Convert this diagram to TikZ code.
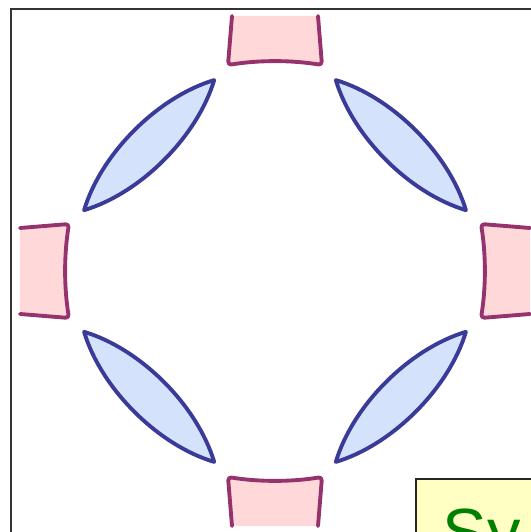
\documentclass[tikz,border=0pt]{standalone}
\usepackage{fontspec}
\setsansfont{Liberation Sans}
\definecolor{lensline}{RGB}{58,58,152}
\definecolor{lensfill}{RGB}{212,226,252}
\definecolor{mirrorline}{RGB}{150,50,110}
\definecolor{mirrorfill}{RGB}{255,217,218}
\definecolor{boxfill}{RGB}{255,255,196}
\definecolor{labelgreen}{RGB}{0,128,0}

\begin{document}
\begin{tikzpicture}[x=0.02cm,y=0.02cm,
  lens/.style={draw=lensline, fill=lensfill, line width=2.2pt, line join=round},
  mirror/.style={draw=mirrorline, line width=2.2pt, line join=round, line cap=round, rounded corners=2pt},
  sysbox/.style={draw=black!85, fill=boxfill, line width=1.1pt, anchor=north west, text=labelgreen,
    font=\sffamily\fontsize{38}{42}\selectfont, text width=6cm, align=left, inner xsep=0.54cm, inner ysep=0.6cm}]

\useasboundingbox (-275,-261) rectangle (256,271);
\draw[black!80, line width=0.8pt] (-264,262) rectangle (340,-340);

\def\rl{178};
\def\ri{206};
\def\ro{255};
\foreach \a in {0,90,180,270}{
  \begin{scope}[rotate=\a]
    \fill[mirrorfill] (\ro,-43) -- (\ri,-47) .. controls (\ri+5,-16) and (\ri+5,16) .. (\ri,47) -- (\ro,43) -- cycle;
    \draw[mirror] (\ro,-43) -- (\ri,-47) .. controls (\ri+5,-16) and (\ri+5,16) .. (\ri,47) -- (\ro,43);
  \end{scope}
}
\foreach \a in {45,135,225,315}{
  \draw[lens, shift={(\a:\rl)}, rotate=\a+90] (-92,0) .. controls (-40,28) and (40,28) .. (92,0)
    .. controls (40,-28) and (-40,-28) .. (-92,0) -- cycle;
}

\node[sysbox] (sys) at (140,-207) {Sy};

\end{tikzpicture}
\end{document}
